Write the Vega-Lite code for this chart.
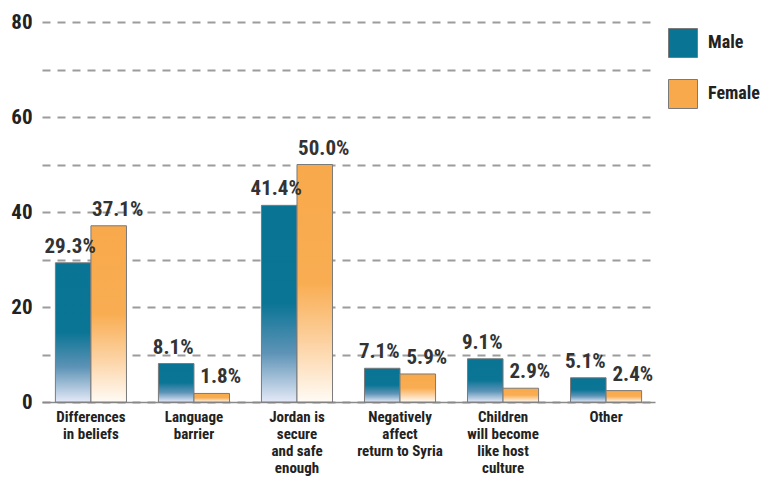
{
  "$schema": "https://vega.github.io/schema/vega-lite/v6.json",
  "autosize": {"type": "none"},
  "padding": {"left": 42, "top": 22, "right": 113, "bottom": 75},
  "width": 613,
  "height": 380,
  "background": "white",
  "config": {
    "font": "Liberation Sans Narrow, Roboto Condensed, DejaVu Sans Condensed, Arial Narrow, sans-serif",
    "view": {"stroke": null}
  },
  "data": {
    "values": [
      {"reason": "Differences|in beliefs", "sex": "Male", "value": 29.3},
      {"reason": "Differences|in beliefs", "sex": "Female", "value": 37.1},
      {"reason": "Language|barrier", "sex": "Male", "value": 8.1},
      {"reason": "Language|barrier", "sex": "Female", "value": 1.8},
      {"reason": "Jordan is|secure|and safe|enough", "sex": "Male", "value": 41.4},
      {"reason": "Jordan is|secure|and safe|enough", "sex": "Female", "value": 50.0},
      {"reason": "Negatively|affect|return to Syria", "sex": "Male", "value": 7.1},
      {"reason": "Negatively|affect|return to Syria", "sex": "Female", "value": 5.9},
      {"reason": "Children|will become|like host|culture", "sex": "Male", "value": 9.1},
      {"reason": "Children|will become|like host|culture", "sex": "Female", "value": 2.9},
      {"reason": "Other", "sex": "Male", "value": 5.1},
      {"reason": "Other", "sex": "Female", "value": 2.4}
    ]
  },
  "transform": [
    {"calculate": "format(datum.value, '.1f') + '%'", "as": "lbl"}
  ],
  "encoding": {
    "x": {
      "field": "reason",
      "type": "nominal",
      "sort": null,
      "title": null,
      "scale": {"paddingInner": 0.31, "paddingOuter": 0.13},
      "axis": {
        "labelExpr": "split(datum.value, '|')",
        "labelAngle": 0,
        "labelFontSize": 15,
        "labelFontWeight": "bold",
        "labelLineHeight": 17,
        "labelColor": "#222222",
        "labelPadding": 7,
        "labelLimit": 0,
        "ticks": false,
        "domainColor": "#8a8a8a",
        "domainWidth": 1.5,
        "grid": false
      }
    },
    "xOffset": {
      "field": "sex",
      "type": "nominal",
      "sort": ["Male", "Female"],
      "scale": {"paddingInner": 0, "paddingOuter": 0}
    },
    "y": {
      "field": "value",
      "type": "quantitative",
      "title": null,
      "scale": {"domain": [0, 80], "nice": false},
      "axis": {
        "values": [0, 10, 20, 30, 40, 50, 60, 70, 80],
        "labelExpr": "datum.value % 20 == 0 ? datum.label : ''",
        "labelFontSize": 21,
        "labelFontWeight": "bold",
        "labelColor": "#222222",
        "labelPadding": 10,
        "ticks": false,
        "domain": false,
        "grid": true,
        "gridColor": "#9c9c9c",
        "gridWidth": 2,
        "gridDash": [8, 7]
      }
    }
  },
  "layer": [
    {
      "mark": {"type": "bar", "opacity": 0},
      "encoding": {
        "color": {
          "field": "sex",
          "type": "nominal",
          "sort": ["Male", "Female"],
          "scale": {"domain": ["Male", "Female"], "range": ["#0a7495", "#f8a94b"]},
          "legend": {
            "title": null,
            "orient": "none",
            "legendX": 626,
            "legendY": 6,
            "padding": 0,
            "symbolType": "square",
            "symbolSize": 841,
            "symbolOpacity": 1,
            "symbolStrokeColor": "#7a7a7a",
            "symbolStrokeWidth": 1,
            "rowPadding": 17,
            "labelOffset": 10,
            "labelFontSize": 18,
            "labelFontWeight": "bold",
            "labelColor": "#222222"
          }
        }
      }
    },
    {
      "transform": [{"filter": "datum.sex === 'Male'"}],
      "mark": {
        "type": "bar",
        "stroke": "#7a7a7a",
        "strokeWidth": 1,
        "fill": {
          "gradient": "linear",
          "x1": 0, "y1": 0, "x2": 0, "y2": 1,
          "stops": [
            {"offset": 0, "color": "#0a7495"},
            {"offset": 0.5, "color": "#0b7596"},
            {"offset": 0.75, "color": "#5d93b6"},
            {"offset": 1, "color": "#e4e9f7"}
          ]
        }
      },
      "encoding": {}
    },
    {
      "transform": [{"filter": "datum.sex === 'Female'"}],
      "mark": {
        "type": "bar",
        "stroke": "#7a7a7a",
        "strokeWidth": 1,
        "fill": {
          "gradient": "linear",
          "x1": 0, "y1": 0, "x2": 0, "y2": 1,
          "stops": [
            {"offset": 0, "color": "#f8a94b"},
            {"offset": 0.5, "color": "#f9ad52"},
            {"offset": 0.75, "color": "#fcd2a2"},
            {"offset": 1, "color": "#fffbf5"}
          ]
        }
      },
      "encoding": {}
    },
    {
      "transform": [{"filter": "datum.sex === 'Male'"}],
      "mark": {"type": "text", "baseline": "alphabetic", "dy": -10, "dx": -3, "fontSize": 21, "fontWeight": "bold", "color": "#333333"},
      "encoding": {"text": {"field": "lbl"}}
    },
    {
      "transform": [{"filter": "datum.sex === 'Female'"}],
      "mark": {"type": "text", "baseline": "alphabetic", "dy": -10, "dx": 9, "fontSize": 21, "fontWeight": "bold", "color": "#333333"},
      "encoding": {"text": {"field": "lbl"}}
    }
  ]
}
